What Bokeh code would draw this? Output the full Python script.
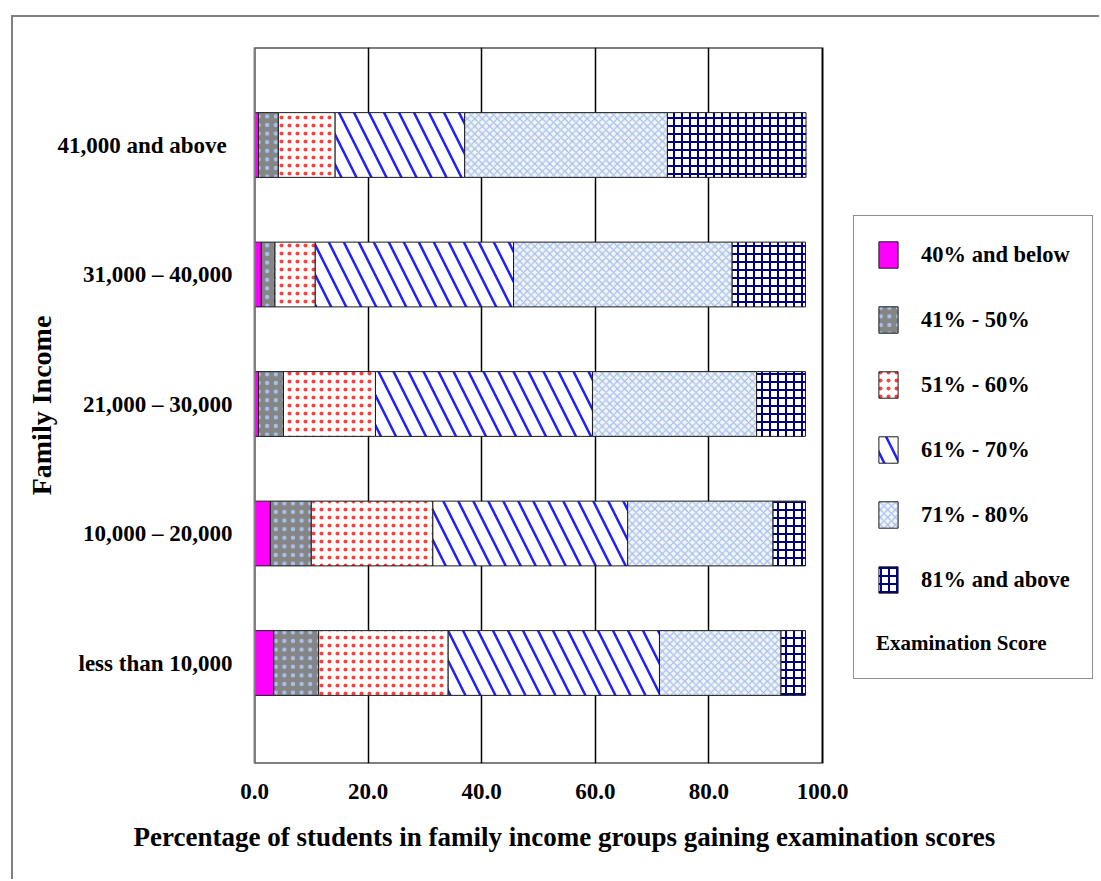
from bokeh.plotting import figure
from bokeh.models import (ColumnDataSource, Range1d, FixedTicker, PrintfTickFormatter,
                          Legend, LegendItem, Title)
from bokeh.embed import file_html
from bokeh.resources import INLINE

# Income groups, bottom to top
income_groups = ["less than 10,000", "10,000 – 20,000", "21,000 – 30,000",
                 "31,000 – 40,000", "41,000 and above "]

score_bands = ["40% and below", "41% - 50%", "51% - 60%",
               "61% - 70%", "71% - 80%", "81% and above"]

# Percentage of students in each income group per score band
below_40 = [3.4, 2.8, 0.7, 1.2, 0.7]
pct_41_50 = [7.9, 7.2, 4.4, 2.4, 3.5]
pct_51_60 = [22.8, 21.4, 16.2, 7.1, 10.0]
pct_61_70 = [37.2, 34.3, 38.2, 34.9, 22.8]
pct_71_80 = [21.4, 25.6, 28.9, 38.5, 35.7]
above_81 = [4.3, 5.7, 8.6, 12.9, 24.4]

x_ticks = [0, 20, 40, 60, 80, 100]

series = [below_40, pct_41_50, pct_51_60, pct_61_70, pct_71_80, above_81]

band_styles = [
    dict(fill_color="#ff00ff"),
    dict(fill_color="#858585", hatch_pattern="dot", hatch_color="#a9c1ea",
         hatch_scale=8.6, hatch_weight=6),
    dict(fill_color="white", hatch_pattern="dot", hatch_color="#ff4040",
         hatch_scale=8, hatch_weight=0.4),
    dict(fill_color="white", hatch_pattern="left_diagonal_line", hatch_color="#2020ff",
         hatch_scale=30, hatch_weight=2.5),
    dict(fill_color="#f1f5fb", hatch_pattern="diagonal_cross", hatch_color="#a5bde6",
         hatch_scale=7.5, hatch_weight=1.2),
    dict(fill_color="white", hatch_pattern="cross", hatch_color="#000080",
         hatch_scale=8, hatch_weight=2),
]

SERIF = "Liberation Serif"

# The frame runs to the right edge so the legend box can sit inside it;
# the percentage scale itself covers 0-100 (568 px).
PX_PER_UNIT = 568 / 100
FRAME_W = 847
y_lo, y_hi = -0.776, 4.753

p = figure(width=1088, height=864, output_backend="svg", toolbar_location=None,
           x_range=Range1d(0, FRAME_W / PX_PER_UNIT), y_range=Range1d(y_lo, y_hi),
           min_border_left=241, min_border_right=0,
           min_border_top=30, min_border_bottom=118)

# chart area frame: grey rule on the top and left of the canvas
p.margin = (15, 0, 0, 11)
p.styles = {"border-top": "2px solid #808080", "border-left": "2px solid #808080"}

p.background_fill_color = "white"
p.border_fill_color = "white"
p.outline_line_color = None

# vertical grid only
p.ygrid.visible = False
p.xgrid.ticker = FixedTicker(ticks=[20, 40, 60, 80])
p.xgrid.grid_line_color = "black"
p.xgrid.grid_line_width = 1.5

# border of the 0-100 plotting area
p.quad(left=[x_ticks[0]], right=[x_ticks[-1]], bottom=[y_lo], top=[y_hi],
       fill_color=None, line_color="black", line_width=2)

positions = list(range(len(income_groups)))
running = [0.0] * len(income_groups)
items = []
for band, values, style in zip(score_bands, series, band_styles):
    lefts = list(running)
    rights = [l + v for l, v in zip(lefts, values)]
    running = rights
    src = ColumnDataSource(dict(y=positions, left=lefts, right=rights))
    r = p.hbar(y="y", left="left", right="right", height=0.5, source=src,
               line_color="#1a1a1a", line_width=1, **style)
    items.append(LegendItem(label=band, renderers=[r]))

# x axis
p.xaxis.ticker = FixedTicker(ticks=x_ticks)
p.xaxis.formatter = PrintfTickFormatter(format="%.1f")
p.xaxis.axis_line_color = None
p.xaxis.major_tick_line_color = None
p.xaxis.minor_tick_line_color = None
p.xaxis.major_tick_out = 0
p.xaxis.minor_tick_out = 0
p.xaxis.major_label_standoff = 20
p.xaxis.major_label_text_font = SERIF
p.xaxis.major_label_text_font_style = "bold"
p.xaxis.major_label_text_font_size = "23px"
p.xaxis.major_label_text_color = "black"

p.add_layout(Title(text="Percentage of students in family income groups gaining examination scores",
                   align="left", offset=-121, vertical_align="top", standoff=40,
                   text_font=SERIF, text_font_style="bold", text_font_size="27px",
                   text_color="black"), "below")

# y axis
p.yaxis.ticker = FixedTicker(ticks=positions)
p.yaxis.major_label_overrides = {i: g for i, g in enumerate(income_groups)}
p.yaxis.axis_line_color = "#808080"
p.yaxis.axis_line_width = 2
p.yaxis.major_tick_line_color = None
p.yaxis.minor_tick_line_color = None
p.yaxis.major_tick_out = 0
p.yaxis.minor_tick_out = 0
p.yaxis.major_label_standoff = 22
p.yaxis.major_label_text_font = SERIF
p.yaxis.major_label_text_font_style = "bold"
p.yaxis.major_label_text_font_size = "23px"
p.yaxis.major_label_text_color = "black"
p.yaxis.axis_label = "Family Income"
p.yaxis.axis_label_standoff = -3
p.yaxis.axis_label_text_font = SERIF
p.yaxis.axis_label_text_font_style = "bold"
p.yaxis.axis_label_text_font_size = "28px"
p.yaxis.axis_label_text_color = "black"

legend = Legend(items=items, location=(599, 84), margin=0, padding=22,
                spacing=32, glyph_width=24, glyph_height=33, label_standoff=21,
                label_text_font=SERIF, label_text_font_style="bold",
                label_text_font_size="22.5px", label_text_color="black",
                title="Examination Score", title_location="below", title_standoff=35,
                title_text_font=SERIF, title_text_font_style="bold",
                title_text_font_size="21px", title_text_color="black",
                border_line_color="#222222", border_line_width=1,
                background_fill_color="white", background_fill_alpha=1)
p.add_layout(legend)

open("out.html", "w").write(file_html(p, INLINE))
